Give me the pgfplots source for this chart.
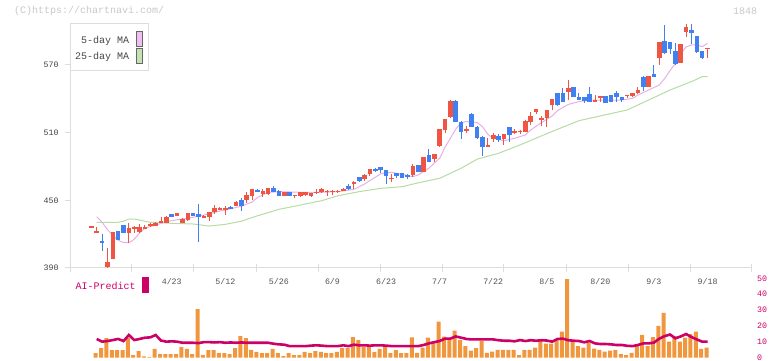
\documentclass[border=0pt]{standalone}
\usepackage{fontspec}
\setmainfont{Liberation Mono}
\usepackage{pgfplots}
\usepackage{pgfplotstable}
\pgfplotsset{compat=1.18}
\definecolor{upred}{HTML}{F05442}
\definecolor{downblue}{HTML}{4080F0}
\definecolor{mapink}{HTML}{E6B0E6}
\definecolor{mapinkfill}{HTML}{F0BEF0}
\definecolor{magreen}{HTML}{B5DCA3}
\definecolor{magreenfill}{HTML}{C3E3B5}
\definecolor{axgray}{HTML}{DDDDDD}
\definecolor{aicol}{HTML}{CC0066}
\definecolor{volcol}{HTML}{F0963C}
\definecolor{wmgray}{HTML}{C8C8C8}
\newcommand\tickfont{\fontsize{8.3bp}{10bp}\selectfont}
\newcommand\labfont{\fontsize{10bp}{12bp}\selectfont}

% daily candles: index, open, high, low, close
\pgfplotstableread{
i o h l c
0 426.3 427.0 426.0 426.8
1 421.3 426.0 421.3 422.8
2 413.9 420.1 405.3 411.9
3 391.2 407.4 389.7 395.6
4 397.7 422.2 397.7 422.2
5 422.8 423.0 414.5 414.8
6 428.1 428.5 421.0 421.3
7 421.3 429.6 412.4 425.7
8 425.5 427.2 420.7 425.9
9 422.2 428.7 421.3 426.0
10 425.2 428.0 424.5 426.6
11 427.2 429.5 426.5 429.0
12 427.5 431.0 427.0 430.2
13 429.9 435.5 429.5 431.9
14 430.2 436.1 430.0 435.2
15 437.6 438.0 435.0 435.5
16 436.4 439.0 436.0 438.5
17 430.2 434.0 429.5 433.4
18 432.5 439.0 432.0 438.5
19 438.5 439.0 436.0 436.4
20 437.9 446.7 413.3 434.9
21 434.9 437.0 434.5 436.4
22 434.9 439.8 431.7 439.3
23 439.3 445.5 437.9 442.9
24 442.0 444.4 441.5 442.9
25 441.4 445.0 437.0 442.9
26 444.4 445.0 442.0 442.3
27 445.2 449.2 444.8 448.8
28 450.3 451.7 440.8 445.0
29 450.3 457.7 447.9 454.7
30 453.8 460.0 450.3 459.7
31 459.1 460.0 457.0 457.7
32 455.6 460.0 453.2 458.5
33 455.6 461.0 455.0 460.6
34 460.6 462.7 457.0 457.7
35 458.5 459.0 453.5 454.1
36 454.1 457.5 453.5 457.1
37 457.1 457.5 453.5 454.1
38 454.1 455.0 452.3 454.7
39 454.1 457.5 452.5 457.1
40 454.4 457.5 454.0 457.1
41 454.1 456.5 452.6 456.2
42 456.2 459.7 455.8 457.7
43 457.1 460.5 456.5 460.0
44 457.7 459.0 454.1 458.5
45 458.0 459.5 455.0 458.4
46 458.0 459.0 456.2 458.4
47 458.5 460.5 458.0 460.0
48 462.7 464.5 459.1 460.0
49 464.2 467.0 460.0 466.5
50 470.4 471.0 466.5 467.1
51 468.6 473.0 467.1 472.4
52 473.3 478.2 471.6 477.8
53 477.8 478.5 475.5 476.0
54 479.2 479.6 474.5 476.9
55 476.9 477.2 464.5 471.8
56 469.3 473.3 466.5 469.8
57 473.9 474.5 469.5 471.8
58 473.9 474.2 469.8 470.1
59 472.4 473.0 469.0 470.4
60 472.4 481.9 471.0 480.4
61 481.3 481.6 475.0 475.4
62 475.4 488.5 475.0 488.1
63 490.2 495.5 484.0 484.3
64 486.7 491.5 484.3 491.1
65 498.5 513.5 497.0 513.0
66 512.4 522.5 510.0 522.1
67 524.2 538.5 522.7 538.1
68 538.1 538.5 519.5 519.8
69 519.8 520.0 504.4 510.9
70 512.1 515.9 509.4 512.6
71 526.6 527.0 515.0 515.3
72 515.3 515.5 504.5 505.0
73 506.5 507.0 489.3 497.6
74 497.6 505.0 497.0 499.1
75 504.4 509.4 501.4 507.9
76 507.1 508.8 502.0 503.5
77 504.1 509.2 499.1 508.8
78 514.7 515.0 502.0 507.9
79 510.6 513.0 508.5 511.2
80 510.9 512.2 508.5 511.8
81 510.9 521.0 510.5 520.6
82 519.8 528.6 516.8 524.8
83 528.6 531.3 526.3 531.0
84 521.2 524.8 516.2 523.3
85 522.7 530.5 515.3 530.1
86 534.5 540.2 530.1 539.9
87 544.9 545.2 534.0 534.5
88 544.8 549.3 537.0 537.4
89 546.3 556.6 538.9 549.3
90 550.1 550.5 541.5 541.9
91 541.3 544.8 538.5 538.9
92 541.3 541.6 536.6 538.3
93 544.2 550.1 537.0 537.4
94 537.4 543.3 537.0 538.9
95 541.7 542.1 537.4 542.1
96 542.5 542.8 536.0 536.6
97 543.3 543.6 537.0 537.4
98 544.8 546.9 537.4 541.3
99 541.3 541.6 537.4 538.9
100 543.1 543.5 540.4 543.5
101 542.5 545.1 541.3 544.8
102 544.8 550.1 544.5 547.8
103 559.0 560.2 547.2 550.7
104 550.7 560.5 550.4 560.2
105 561.9 569.9 559.3 559.6
106 576.4 590.6 569.9 590.3
107 591.2 605.4 580.0 580.3
108 590.3 590.6 579.7 583.8
109 582.4 589.7 570.2 570.5
110 572.0 588.9 571.7 588.6
111 599.5 606.3 595.1 603.9
112 601.0 606.3 588.6 598.6
113 595.7 596.0 580.3 581.8
114 582.4 582.7 575.3 576.4
115 584.5 584.9 576.4 584.9
}\candles

\pgfplotstableread{
i m
1 435.5
2 430.5
3 424.0
4 419.0
5 414.5
6 412.6
7 412.4
8 415.5
9 421.0
10 425.5
11 426.8
12 428.0
14 431.0
16 432.8
18 434.0
20 436.0
22 438.0
24 440.5
26 442.5
28 444.8
30 448.5
31 452.5
33 457.0
35 457.7
39 457.1
43 457.1
46 457.7
49 459.7
51 464.5
54 473.5
56 474.8
58 473.0
60 471.0
61 472.5
63 478.5
65 487.3
66 497.0
67 505.0
68 513.0
69 518.9
70 519.8
72 519.0
73 515.3
74 508.5
75 505.0
77 502.9
79 505.0
81 508.0
82 512.4
84 518.9
86 524.8
87 529.5
89 535.0
91 537.5
93 538.9
99 538.9
101 540.4
102 543.3
104 547.8
106 552.2
107 558.0
108 565.0
109 571.4
110 580.0
111 586.0
112 587.7
113 587.7
114 586.2
115 589.2
}\mafive

\pgfplotstableread{
i m
1 430.5
5 430.5
6 431.5
7 433.4
8 433.4
9 432.5
11 430.5
15 429.6
19 429.0
22 427.2
25 428.7
28 431.5
31 436.3
35 442.0
39 445.8
43 449.7
46 454.0
50 457.7
54 460.6
58 462.1
61 465.5
65 469.5
69 478.4
72 486.5
76 491.7
80 499.1
84 507.1
87 513.0
91 520.6
100 530.1
104 538.9
108 547.8
112 555.2
114 559.6
115 559.6
}\matwentyfive

\pgfplotstableread{
i v
1 2.9
2 6.1
3 12.4
4 4.8
5 4.8
6 4.8
7 12.4
8 1.7
9 4.2
10 0.8
11 0.4
12 5.5
13 2.3
14 2.3
15 2.3
16 2.3
17 6.7
18 5.5
19 2.3
20 30.6
21 1.7
22 4.8
23 4.8
24 2.9
25 2.9
26 2.3
27 6.1
28 13.6
29 12.4
30 5.0
31 3.6
32 2.9
33 2.9
34 5.5
35 2.9
36 1.0
37 2.9
38 1.7
39 1.7
40 3.6
41 2.9
42 4.2
43 3.6
44 2.9
45 2.9
46 3.6
47 6.1
48 6.1
49 13.0
50 11.1
51 6.7
52 6.7
53 3.6
54 5.5
55 6.7
56 2.9
57 4.8
58 2.9
59 2.9
60 12.8
61 3.1
62 6.3
63 12.6
64 9.4
65 22.7
66 13.2
67 11.1
68 17.0
69 11.1
70 7.3
71 4.4
72 6.1
73 10.5
74 3.1
75 3.8
76 5.0
77 5.0
78 5.0
79 5.0
80 1.7
81 5.0
82 5.0
83 6.3
84 10.5
85 8.8
86 8.8
87 11.1
88 16.4
89 49.5
90 11.1
91 7.3
92 6.3
93 9.4
94 5.7
95 5.0
96 3.8
97 4.4
98 5.0
99 2.3
100 1.7
101 3.1
102 7.3
103 14.3
104 7.3
105 13.0
106 20.1
107 28.3
108 10.1
109 13.6
110 10.1
111 12.6
112 14.9
113 16.4
114 5.5
115 6.3
}\volume

\pgfplotstableread{
i p
1 11.8
2 10.1
3 10.5
4 11.1
5 11.8
6 10.5
7 14.3
8 11.1
9 11.8
10 12.6
11 12.8
12 14.3
13 10.8
14 10.1
15 10.3
16 10.1
17 9.4
18 9.4
19 9.4
20 9.2
21 9.8
22 9.8
23 9.6
24 9.8
25 9.4
26 9.6
27 9.4
28 9.6
29 9.4
30 9.4
31 9.4
32 9.4
33 9.4
34 8.8
35 8.4
36 8.2
37 7.3
38 7.3
39 7.3
40 7.3
41 7.6
42 7.8
43 7.6
44 7.3
45 7.3
46 7.3
47 7.8
48 7.3
49 8.2
50 7.8
51 7.8
52 7.6
53 7.8
54 7.8
55 7.6
56 7.3
57 7.3
58 7.3
59 7.3
60 7.3
61 7.3
62 8.0
63 9.0
64 9.8
65 10.5
66 12.0
67 12.0
68 13.4
69 12.6
70 11.8
71 11.5
72 11.5
73 11.5
74 11.5
75 11.5
76 11.0
77 10.7
78 10.7
79 10.3
80 11.1
81 10.5
82 11.0
83 10.7
84 11.0
85 10.8
86 10.1
87 11.8
88 12.0
89 11.0
90 10.7
91 10.5
92 9.7
93 10.5
94 9.0
95 8.6
96 8.6
97 8.4
98 8.0
99 8.0
100 7.5
101 7.3
102 8.0
103 9.0
104 9.0
105 9.5
106 12.0
107 13.6
108 14.6
109 12.2
110 13.4
111 14.9
112 13.0
113 11.5
114 10.1
115 10.1
}\aipredict

\begin{document}
\begin{tikzpicture}
\useasboundingbox (0,0) rectangle (772bp,361bp);

\begin{axis}[
  at={(70bp,93bp)}, anchor=south west,
  scale only axis, width=682bp, height=245bp,
  xmin=-3.99, xmax=123.3, ymin=390, ymax=607.2,
  axis x line*=bottom, axis y line*=left,
  axis line style={-, draw=axgray, line width=1bp},
  tick align=outside, major tick length=5bp,
  ytick={390,450,510,570},
  ytick style={draw=axgray, line width=1bp},
  yticklabel style={font=\tickfont, text=black!75, xshift=-2.9bp},
  xtick={15,25,...,115},
  xticklabels={4/23,5/12,5/26,6/9,6/23,7/7,7/22,8/5,8/20,9/3,9/18},
  xtick style={draw=none},
  xticklabel style={font=\tickfont, text=black!68, anchor=center, yshift=-9bp},
  extra x ticks={-3.98,7.58,19.15,30.73,42.30,53.87,65.44,77.01,88.59,100.16,111.73,123.29},
  extra x tick labels={,,,,,,,,,,,},
  extra x tick style={xtick style={draw=axgray, line width=1bp}, tick align=center, major tick length=8bp},
  /pgf/number format/assume math mode=true,
  clip=false,
]
% moving averages
\addplot[magreen, line width=1bp, mark=none] table[x=i, y=m] {\matwentyfive};
\addplot[mapink, line width=1bp, mark=none] table[x=i, y=m] {\mafive};
% wicks
\addplot[draw=none, mark=none, error bars/.cd, y dir=both, y explicit, error mark=none,
  error bar style={draw=upred, line width=1bp}]
  table[x=i, y expr={\thisrow{c}>=\thisrow{o} ? 0.5*(\thisrow{h}+\thisrow{l}) : nan},
        y error expr={0.5*(\thisrow{h}-\thisrow{l})}] {\candles};
\addplot[draw=none, mark=none, error bars/.cd, y dir=both, y explicit, error mark=none,
  error bar style={draw=downblue, line width=1bp}]
  table[x=i, y expr={\thisrow{c}<\thisrow{o} ? 0.5*(\thisrow{h}+\thisrow{l}) : nan},
        y error expr={0.5*(\thisrow{h}-\thisrow{l})}] {\candles};
% bodies
\addplot[draw=none, mark=none, error bars/.cd, y dir=both, y explicit, error mark=none,
  error bar style={draw=upred, line width=4.6bp}]
  table[x=i, y expr={\thisrow{c}>=\thisrow{o} ? 0.5*(\thisrow{o}+\thisrow{c}) : nan},
        y error expr={max(0.5*abs(\thisrow{c}-\thisrow{o}),0.45)}] {\candles};
\addplot[draw=none, mark=none, error bars/.cd, y dir=both, y explicit, error mark=none,
  error bar style={draw=downblue, line width=4.6bp}]
  table[x=i, y expr={\thisrow{c}<\thisrow{o} ? 0.5*(\thisrow{o}+\thisrow{c}) : nan},
        y error expr={max(0.5*abs(\thisrow{c}-\thisrow{o}),0.45)}] {\candles};
\end{axis}

\begin{axis}[
  at={(70bp,3.3bp)}, anchor=south west,
  scale only axis, width=682bp, height=79.4bp,
  xmin=-3.99, xmax=123.3, ymin=0, ymax=50,
  axis x line=none, axis y line*=right,
  axis line style={draw=none},
  ytick={0,10,20,30,40,50},
  ytick style={draw=none}, major tick length=0pt,
  yticklabel style={font=\tickfont, text=aicol, anchor=west, xshift=1.7bp},
  /pgf/number format/assume math mode=true,
  clip=false,
]
\addplot[ybar, bar width=4bp, bar shift=-1bp, fill=volcol, draw=none] table[x=i, y=v] {\volume};
\addplot[aicol, line width=2.6bp, mark=none] table[x=i, y=p] {\aipredict};
\end{axis}

% watermark and code
\node[anchor=west, inner sep=0pt, text=wmgray, font=\labfont] at (14bp,349.7bp) {(C)https://chartnavi.com/};
\node[anchor=west, inner sep=0pt, text=wmgray, font=\labfont] at (733bp,349.7bp) {1848};

% legend
\draw[axgray, fill=white, line width=1bp] (70bp,337bp) rectangle (148bp,290bp);
\node[anchor=east, inner sep=0pt, text=black!72, font=\labfont] at (129.3bp,320.3bp) {5-day MA};
\node[anchor=east, inner sep=0pt, text=black!72, font=\labfont] at (129.3bp,303.7bp) {25-day MA};
\draw[draw=black!60, fill=mapinkfill, line width=0.8bp] (136.3bp,330bp) rectangle (142.7bp,314.3bp);
\draw[draw=black!60, fill=magreenfill, line width=0.8bp] (136.3bp,312.7bp) rectangle (142.7bp,297.7bp);

% AI-Predict label
\node[anchor=west, inner sep=0pt, text=aicol, font=\labfont] at (75.5bp,75bp) {AI-Predict};
\fill[aicol] (142.3bp,83.7bp) rectangle (148.7bp,68bp);
\end{tikzpicture}
\end{document}
